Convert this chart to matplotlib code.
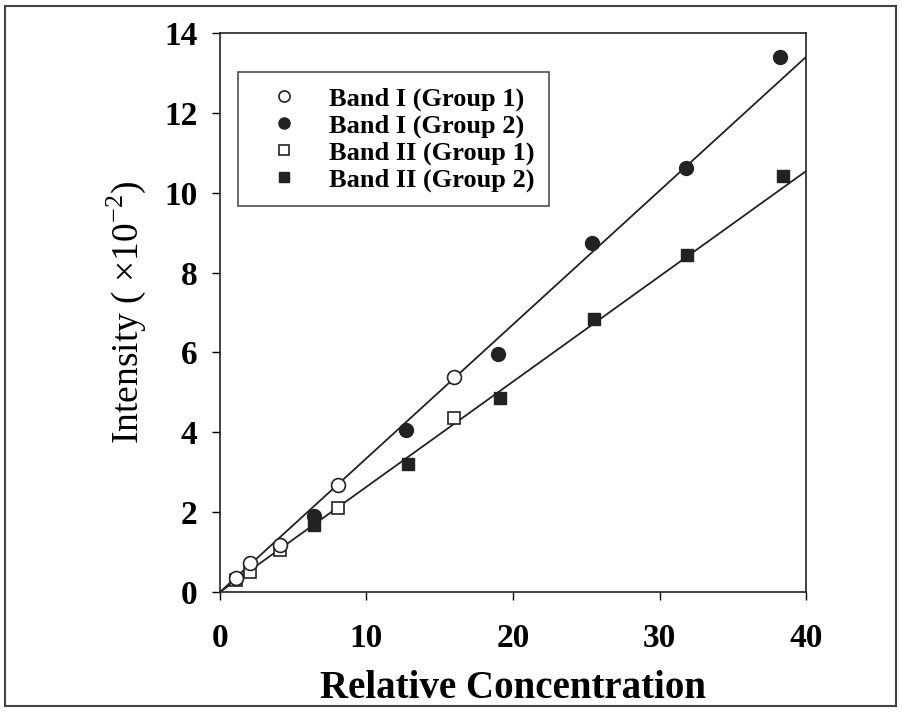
import numpy as np
import matplotlib
matplotlib.use("Agg")
import matplotlib.pyplot as plt
from matplotlib.patches import Rectangle

plt.rcParams["font.family"] = ["Liberation Serif", "DejaVu Serif"]
plt.rcParams["mathtext.fontset"] = "custom"
plt.rcParams["mathtext.rm"] = "Liberation Serif"

# data
x_b1_g1 = [1.1, 2.05, 4.1, 8.05, 16.0]
y_b1_g1 = [0.35, 0.73, 1.18, 2.68, 5.38]
x_b1_g2 = [6.4, 12.7, 19.0, 25.4, 31.8, 38.2]
y_b1_g2 = [1.9, 4.05, 5.96, 8.74, 10.62, 13.4]
x_b2_g1 = [1.1, 2.05, 4.1, 8.05, 16.0]
y_b2_g1 = [0.3, 0.5, 1.05, 2.1, 4.36]
x_b2_g2 = [6.4, 12.8, 19.1, 25.5, 31.9, 38.4]
y_b2_g2 = [1.68, 3.2, 4.86, 6.84, 8.44, 10.42]

# fitted lines (slope, through origin)
slope_b1 = 0.335
slope_b2 = 0.2635
x_fit = np.array([0, 40])

fig = plt.figure(figsize=(9.03, 7.17), dpi=100)
ax = fig.add_axes([0.2436, 0.1743, 0.649, 0.7797])

ax.plot(x_fit, slope_b1 * x_fit, color="#222222", lw=1.3, zorder=1)
ax.plot(x_fit, slope_b2 * x_fit, color="#222222", lw=1.3, zorder=1)

ax.plot(x_b1_g1, y_b1_g1, "o", ms=10, mfc="white", mec="#222222", mew=1.2, ls="none", label="Band I (Group 1)", zorder=3)
ax.plot(x_b1_g2, y_b1_g2, "o", ms=10, mfc="#222222", mec="#222222", ls="none", label="Band I (Group 2)", zorder=3)
ax.plot(x_b2_g1, y_b2_g1, "s", ms=9, mfc="white", mec="#222222", mew=1.2, ls="none", label="Band II (Group 1)", zorder=2)
ax.plot(x_b2_g2, y_b2_g2, "s", ms=9, mfc="#222222", mec="#222222", ls="none", label="Band II (Group 2)", zorder=2)

ax.set_xlim(0, 40)
ax.set_ylim(0, 14)
ax.set_xticks([0, 10, 20, 30, 40])
ax.set_yticks([0, 2, 4, 6, 8, 10, 12, 14])
ax.tick_params(axis="both", direction="out", length=6, width=1, labelsize=24)
ax.tick_params(axis="y", pad=10)
ax.tick_params(axis="x", pad=16)
for lbl in ax.get_xticklabels() + ax.get_yticklabels():
    lbl.set_fontweight("bold")
for sp in ax.spines.values():
    sp.set_linewidth(1.2)
    sp.set_color("#222222")

ax.set_xlabel("Relative Concentration", fontsize=28, fontweight="bold", labelpad=12)
ax.set_ylabel(r"Intensity ( $\times 10^{-2}$)", fontsize=27, labelpad=12)

leg = ax.legend(loc="upper left", bbox_to_anchor=(0.03, 0.93), frameon=True, fancybox=False,
                edgecolor="#222222", prop={"weight": "bold", "size": 19},
                handlelength=2.4, handletextpad=0.5, borderpad=0.55, labelspacing=0.12,
                markerscale=0.8, borderaxespad=0)
leg.get_frame().set_linewidth(1.2)

fig.patches.append(Rectangle((5 / 903, 11 / 717), 891 / 903, 700 / 717, transform=fig.transFigure,
                             fill=False, edgecolor="#444444", lw=1.5))

fig.savefig("out.png", dpi=100)
